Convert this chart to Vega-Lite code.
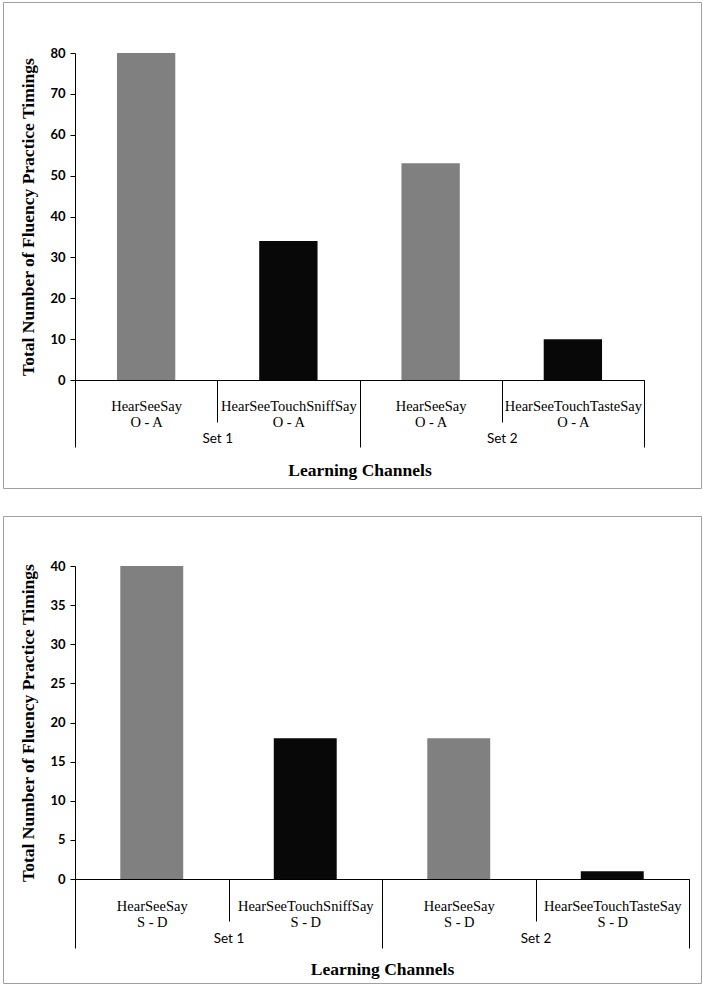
{
  "$schema": "https://vega.github.io/schema/vega-lite/v6.json",
  "padding": {"left": 2, "top": 1, "right": 3, "bottom": 1},
  "spacing": 26,
  "config": {
    "view": {"stroke": "#a0a0a0", "strokeWidth": 1},
    "axis": {"domainColor": "#000", "tickColor": "#000", "labelColor": "#000", "titleColor": "#000", "grid": false}
  },
  "datasets": {
    "oa": [
      {"cat": "1|HearSeeSay|O - A", "set": "Set 1", "channel": "HearSeeSay", "value": 80},
      {"cat": "1|HearSeeTouchSniffSay|O - A", "set": "Set 1", "channel": "HearSeeTouchSniffSay", "value": 34},
      {"cat": "2|HearSeeSay|O - A", "set": "Set 2", "channel": "HearSeeSay", "value": 53},
      {"cat": "2|HearSeeTouchTasteSay|O - A", "set": "Set 2", "channel": "HearSeeTouchTasteSay", "value": 10}
    ],
    "sd": [
      {"cat": "1|HearSeeSay|S - D", "set": "Set 1", "channel": "HearSeeSay", "value": 40},
      {"cat": "1|HearSeeTouchSniffSay|S - D", "set": "Set 1", "channel": "HearSeeTouchSniffSay", "value": 18},
      {"cat": "2|HearSeeSay|S - D", "set": "Set 2", "channel": "HearSeeSay", "value": 18},
      {"cat": "2|HearSeeTouchTasteSay|S - D", "set": "Set 2", "channel": "HearSeeTouchTasteSay", "value": 1}
    ]
  },
  "vconcat": [
    {
      "width": 698,
      "height": 486,
      "data": {"name": "oa"},
      "resolve": {"scale": {"x": "independent"}},
      "layer": [
        {
          "mark": {"type": "bar", "width": {"band": 0.41}},
          "encoding": {
            "x": {
              "field": "cat", "type": "nominal", "sort": null,
              "scale": {"type": "band", "range": [72, 641], "paddingInner": 0, "paddingOuter": 0},
              "axis": {
                "orient": "bottom", "offset": -108, "title": null, "labelAngle": 0,
                "tickBand": "extent", "tickSize": 42,
                "labelExpr": "slice(split(datum.label, '|'), 1)",
                "labelFont": "Liberation Serif", "labelFontSize": 14.5, "labelLineHeight": 16,
                "labelBaseline": "middle", "labelPadding": -16
              }
            },
            "y": {
              "field": "value", "type": "quantitative",
              "scale": {"domain": [0, 80], "range": [378, 51], "nice": false},
              "axis": {
                "offset": -72, "values": [0, 10, 20, 30, 40, 50, 60, 70, 80],
                "tickSize": 5, "labelPadding": 5, "labelFont": "Lato", "labelFontSize": 13, "labelFontWeight": "bold",
                "title": "Total Number of Fluency Practice Timings",
                "titleFont": "Liberation Serif", "titleFontSize": 17.5, "titleFontWeight": "bold",
                "titleX": -47, "titleBaseline": "middle"
              }
            },
            "color": {
              "field": "channel", "type": "nominal",
              "scale": {"domain": ["HearSeeSay", "HearSeeTouchSniffSay", "HearSeeTouchTasteSay"], "range": ["#808080", "#080808", "#080808"]},
              "legend": null
            }
          }
        },
        {
          "mark": {"type": "bar", "opacity": 0},
          "encoding": {
            "x": {
              "field": "set", "type": "nominal",
              "scale": {"type": "band", "range": [72, 641], "paddingInner": 0, "paddingOuter": 0},
              "axis": {
                "orient": "bottom", "offset": -108, "domain": false, "labelAngle": 0,
                "tickBand": "extent", "tickSize": 67,
                "labelFont": "Lato", "labelFontSize": 13.5, "labelBaseline": "middle", "labelPadding": -9,
                "title": "Learning Channels", "titleFont": "Liberation Serif", "titleFontSize": 17.5,
                "titleFontWeight": "bold", "titleY": 90, "titleBaseline": "middle"
              }
            }
          }
        }
      ]
    },
    {
      "width": 698,
      "height": 467,
      "data": {"name": "sd"},
      "resolve": {"scale": {"x": "independent"}},
      "layer": [
        {
          "mark": {"type": "bar", "width": {"band": 0.41}},
          "encoding": {
            "x": {
              "field": "cat", "type": "nominal", "sort": null,
              "scale": {"type": "band", "range": [72, 686], "paddingInner": 0, "paddingOuter": 0},
              "axis": {
                "orient": "bottom", "offset": -104, "title": null, "labelAngle": 0,
                "tickBand": "extent", "tickSize": 42,
                "labelExpr": "slice(split(datum.label, '|'), 1)",
                "labelFont": "Liberation Serif", "labelFontSize": 14.5, "labelLineHeight": 16,
                "labelBaseline": "middle", "labelPadding": -15
              }
            },
            "y": {
              "field": "value", "type": "quantitative",
              "scale": {"domain": [0, 40], "range": [363, 50], "nice": false},
              "axis": {
                "offset": -72, "values": [0, 5, 10, 15, 20, 25, 30, 35, 40],
                "tickSize": 5, "labelPadding": 5, "labelFont": "Lato", "labelFontSize": 13, "labelFontWeight": "bold",
                "title": "Total Number of Fluency Practice Timings",
                "titleFont": "Liberation Serif", "titleFontSize": 17.5, "titleFontWeight": "bold",
                "titleX": -47, "titleBaseline": "middle"
              }
            },
            "color": {
              "field": "channel", "type": "nominal",
              "scale": {"domain": ["HearSeeSay", "HearSeeTouchSniffSay", "HearSeeTouchTasteSay"], "range": ["#808080", "#080808", "#080808"]},
              "legend": null
            }
          }
        },
        {
          "mark": {"type": "bar", "opacity": 0},
          "encoding": {
            "x": {
              "field": "set", "type": "nominal",
              "scale": {"type": "band", "range": [72, 686], "paddingInner": 0, "paddingOuter": 0},
              "axis": {
                "orient": "bottom", "offset": -104, "domain": false, "labelAngle": 0,
                "tickBand": "extent", "tickSize": 69,
                "labelFont": "Lato", "labelFontSize": 13.5, "labelBaseline": "middle", "labelPadding": -10,
                "title": "Learning Channels", "titleFont": "Liberation Serif", "titleFontSize": 17.5,
                "titleFontWeight": "bold", "titleY": 90, "titleBaseline": "middle"
              }
            }
          }
        }
      ]
    }
  ]
}
